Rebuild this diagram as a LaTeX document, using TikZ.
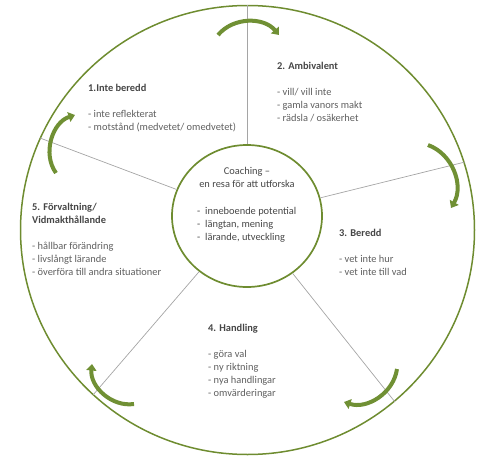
\documentclass[tikz,border=0pt]{standalone}
\usepackage{fontspec}
\setmainfont{Carlito}
\usetikzlibrary{arrows.meta,shapes.geometric}
\definecolor{leaf}{RGB}{110,140,48}
\definecolor{arrowgreen}{RGB}{112,144,52}
\definecolor{spokegray}{RGB}{165,165,165}
\definecolor{txt}{RGB}{95,95,95}
\definecolor{ttl}{RGB}{70,70,70}
\tikzset{
  spoke/.style={draw=spokegray, line width=0.7pt},
  cyclearrow/.style={draw=arrowgreen, line width=4pt, line cap=butt,
    -{Triangle[width=10pt,length=6.5pt]}},
  block/.style={anchor=north west, inner sep=0pt, align=left, text=txt,
    font=\fontsize{10.4}{13}\selectfont},
}
\newcommand{\ttlfmt}[1]{{\color{ttl}\bfseries #1}}
\begin{document}
\begin{tikzpicture}[x=1pt,y=-1pt]
\useasboundingbox (0,0) rectangle (490,466);
% outer circle
\draw[leaf, line width=1.5pt] (247.5,230) ellipse [x radius=227pt, y radius=224.5pt];
% inner circle
\node[draw=leaf, line width=1.7pt, ellipse, minimum width=150pt, minimum height=142pt, inner sep=0pt] (inner) at (247,216) {};
% spoke end points on the outer circle
\coordinate (o1) at (247,5);
\coordinate (o2) at (465,162);
\coordinate (o3) at (395,402);
\coordinate (o4) at (93,395);
\coordinate (o5) at (40,138);
\foreach \o in {o1,o2,o3,o4,o5} \draw[spoke] (inner) -- (\o);
% cycle arrows
\coordinate (a1s) at (218,35); \coordinate (a1e) at (279,35);
\draw[cyclearrow] (a1s) to[bend left=50] (a1e);
\coordinate (a2s) at (428,145); \coordinate (a2e) at (451,208);
\draw[cyclearrow] (a2s) to[bend left=50] (a2e);
\coordinate (a3s) at (397,369); \coordinate (a3e) at (344,402);
\draw[cyclearrow] (a3s) to[bend left=50] (a3e);
\coordinate (a4s) at (134,404); \coordinate (a4e) at (92,364);
\draw[cyclearrow] (a4s) to[bend left=52] (a4e);
\coordinate (a5s) at (56,173); \coordinate (a5e) at (75,115);
\draw[cyclearrow] (a5s) to[bend left=54] (a5e);
% texts
\node[block] (t1) at (88,84) {\ttlfmt{1.Inte beredd}\\[13pt]- inte reflekterat\\- motstånd (medvetet/ omedvetet)};
\node[block] (t2) at (277,62) {\ttlfmt{2. Ambivalent}\\[13pt]- vill/ vill inte\\- gamla vanors makt\\- rädsla / osäkerhet};
\node[block] (t3) at (339,229) {\ttlfmt{3. Beredd}\\[13pt]- vet inte hur\\- vet inte till vad};
\node[block] (t4) at (208,324) {\ttlfmt{4. Handling}\\[13pt]- göra val\\- ny riktning\\- nya handlingar\\- omvärderingar};
\node[block] (t5) at (32,203) {\ttlfmt{5. Förvaltning/}\\\ttlfmt{Vidmakthållande}\\[13pt]- hållbar förändring\\- livslångt lärande\\- överföra till andra situationer};
\node[block, anchor=north, align=center, text=ttl] (ct) at (247,167) {Coaching –\\en resa för att utforska};
\node[block, text=ttl] (cl) at (197,207) {\makebox[8pt][l]{-}inneboende potential\\\makebox[8pt][l]{-}längtan, mening\\\makebox[8pt][l]{-}lärande, utveckling};
\end{tikzpicture}
\end{document}
